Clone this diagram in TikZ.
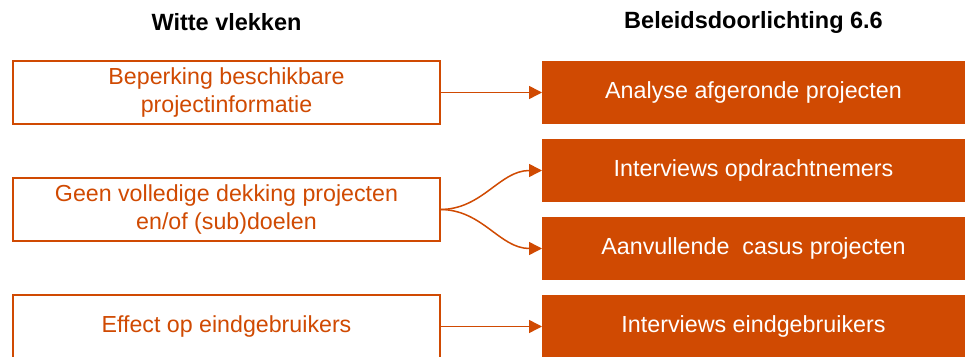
\documentclass[tikz,border=0pt]{standalone}
\usepackage{fontspec}
\setmainfont{Liberation Sans}
\usetikzlibrary{arrows.meta}
\usetikzlibrary{positioning}
\definecolor{vlekoranje}{HTML}{D04A02}

\begin{document}
\begin{tikzpicture}[x=1pt,y=1pt,>={Triangle[length=13pt,width=13pt]},
	line width=1.5pt,node distance=15pt,
	gap node/.style={draw=vlekoranje,fill=white,text=vlekoranje,minimum width=427pt,
		minimum height=63pt,align=center,inner sep=0pt,outer sep=0pt,
		font=\fontsize{23.2}{28}\selectfont},
	bd node/.style={fill=vlekoranje,text=white,minimum width=423pt,minimum height=63pt,
		inner sep=0pt,outer sep=0pt,font=\fontsize{23.3}{28}\selectfont},
	head node/.style={font=\bfseries\fontsize{23.5}{28}\selectfont}]
	
	\useasboundingbox (0,0) rectangle (965,356);
	\clip (0,0) rectangle (965,356);
	
	% kopjes
	\node[head node] (hwit) at (226.5,334) {Witte vlekken};
	\node[head node] (hbd) at (753.5,334) {Beleidsdoorlichting 6.6};
	
	% witte vlekken
	\node[gap node] (beperking) at (226.5,263.5) {Beperking beschikbare\\projectinformatie};
	\node[gap node] (dekking) at (226.5,146.5) {Geen volledige dekking projecten\\en/of (sub)doelen};
	\node[gap node] (effect) at (226.5,29.5) {Effect op eindgebruikers};
	
	% beleidsdoorlichting
	\node[bd node] (analyse) at (753.5,263.5) {Analyse afgeronde projecten};
	\node[bd node] (opdracht) [below=of analyse] {Interviews opdrachtnemers};
	\node[bd node] (casus) [below=of opdracht] {Aanvullende\ \ casus projecten};
	\node[bd node] (eind) [below=of casus] {Interviews eindgebruikers};
	
	\draw[vlekoranje,->] (beperking.east) -- (beperking.east -| analyse.west);
	\draw[vlekoranje,->] (dekking.east) to[out=0,in=180] (opdracht.west);
	\draw[vlekoranje,->] (dekking.east) to[out=0,in=180] (casus.west);
	\draw[vlekoranje,->] (effect.east |- eind.west) -- (eind.west);
\end{tikzpicture}
\end{document}
